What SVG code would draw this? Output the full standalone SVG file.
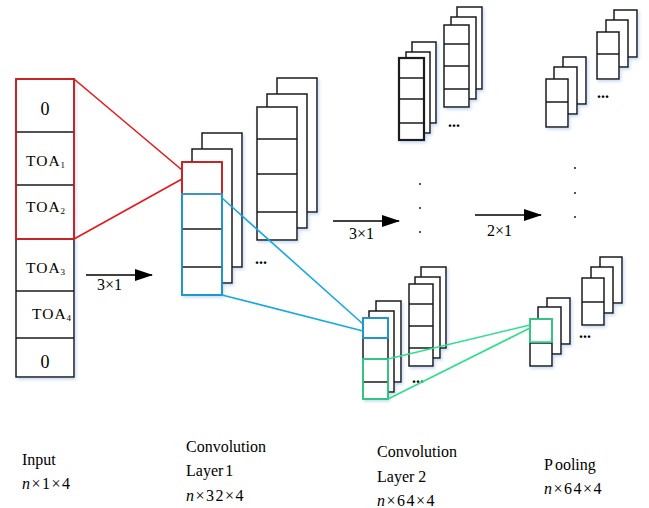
<svg xmlns="http://www.w3.org/2000/svg" width="649" height="508" viewBox="0 0 649 508">
  <defs>
    <filter id="soft" x="-20%" y="-20%" width="150%" height="150%">
      <feDropShadow dx="1.5" dy="2" stdDeviation="1.4" flood-color="#6f9ad6" flood-opacity="0.35"/>
    </filter>
    <marker id="head" viewBox="0 0 18 12" refX="17" refY="6" markerWidth="18" markerHeight="12" markerUnits="userSpaceOnUse" orient="auto">
      <path d="M0,0 L18,6 L0,12 Z" fill="#000"/>
    </marker>
  </defs>
  <style>
    .cell { fill: #fff; stroke: #1a1a1a; stroke-width: 1.5; }
    .bold { stroke-width: 2.2; }
    .div { stroke: #1a1a1a; stroke-width: 1.5; fill: none; }
    .red { fill: none; stroke: #e81818; stroke-width: 1.6; }
    .blue { fill: none; stroke: #16a8e4; stroke-width: 1.6; }
    .green { fill: none; stroke: #2ee08e; stroke-width: 1.6; }
    .arrow { stroke: #000; stroke-width: 1.6; fill: none; marker-end: url(#head); }
    text { font-family: "Liberation Serif", "Times New Roman", serif; fill: #000; }
    .lbl { font-size: 16px; }
    .dim { font-size: 16px; letter-spacing: 1.5px; }
    .toa { font-size: 15.5px; letter-spacing: 1px; }
    .sub { font-size: 9px; letter-spacing: 0; }
    .zero { font-size: 18px; }
    .dots { font-size: 16px; font-weight: bold; }
    .it { font-style: italic; }
  </style>

  <!-- input vector -->
  <g id="input" filter="url(#soft)">
    <rect class="cell" x="16" y="79" width="58" height="298"/>
    <path class="div" d="M16,132H74 M16,185H74 M16,239H74 M16,291H74 M16,338H74"/>
  </g>
  <g id="input-text">
    <text class="zero" x="45" y="115" text-anchor="middle">0</text>
    <text class="toa" x="26" y="166">TOA<tspan class="sub" dy="2">1</tspan></text>
    <text class="toa" x="26" y="212">TOA<tspan class="sub" dy="2">2</tspan></text>
    <text class="toa" x="26" y="273">TOA<tspan class="sub" dy="2">3</tspan></text>
    <text class="toa" x="32" y="319">TOA<tspan class="sub" dy="2">4</tspan></text>
    <text class="zero" x="45" y="368" text-anchor="middle">0</text>
  </g>

  <!-- convolution layer 1 -->
  <g id="conv1-a" filter="url(#soft)">
    <rect class="cell" x="202" y="133" width="40" height="134"/>
    <rect class="cell" x="192" y="149" width="40" height="134"/>
    <rect class="cell" x="182" y="162" width="40" height="133"/>
    <path class="div" d="M182,229H222 M182,267H222"/>
  </g>
  <g id="conv1-b" filter="url(#soft)">
    <rect class="cell" x="277" y="78" width="40" height="134"/>
    <rect class="cell" x="267" y="94" width="40" height="134"/>
    <rect class="cell" x="257" y="107" width="40" height="133"/>
    <path class="div" d="M257,139H297 M257,174H297 M257,212H297"/>
  </g>
  <text class="dots" x="255" y="264">...</text>

  <!-- convolution layer 2 -->
  <g id="conv2-a" filter="url(#soft)">
    <rect class="cell" x="412" y="42" width="24" height="81"/>
    <rect class="cell" x="406" y="52" width="24" height="81"/>
    <rect class="cell bold" x="399" y="58" width="25" height="82"/>
    <path class="div bold" d="M399,78H424 M399,99H424 M399,123H424"/>
  </g>
  <g id="conv2-b" filter="url(#soft)">
    <rect class="cell" x="457" y="7" width="25" height="82"/>
    <rect class="cell" x="451" y="17" width="25" height="82"/>
    <rect class="cell" x="444" y="25" width="25" height="82"/>
    <path class="div" d="M444,44H469 M444,66H469 M444,89H469"/>
  </g>
  <text class="dots" x="448" y="127">...</text>
  <g id="conv2-vdots">
    <circle cx="420" cy="184" r="0.9" fill="#000"/>
    <circle cx="420" cy="208" r="0.9" fill="#000"/>
    <circle cx="420" cy="232" r="0.9" fill="#000"/>
  </g>
  <g id="conv2-c" filter="url(#soft)">
    <rect class="cell" x="376" y="301" width="25" height="81"/>
    <rect class="cell" x="369" y="311" width="25" height="81"/>
    <rect class="cell" x="363" y="318" width="25" height="81"/>
    <path class="div" d="M363,338H388 M363,359H388 M363,382H388"/>
  </g>
  <g id="conv2-d" filter="url(#soft)">
    <rect class="cell" x="421" y="267" width="25" height="81"/>
    <rect class="cell" x="415" y="277" width="25" height="81"/>
    <rect class="cell" x="409" y="284" width="24" height="82"/>
    <path class="div" d="M409,304H433 M409,326H433 M409,348H433"/>
  </g>
  <text class="dots" x="412" y="383">...</text>

  <!-- pooling layer -->
  <g id="pool-a" filter="url(#soft)">
    <rect class="cell" x="563" y="57" width="23" height="47"/>
    <rect class="cell" x="554" y="67" width="23" height="47"/>
    <rect class="cell" x="546" y="79" width="22" height="48"/>
    <path class="div" d="M546,102H568"/>
  </g>
  <g id="pool-b" filter="url(#soft)">
    <rect class="cell" x="614" y="10" width="23" height="47"/>
    <rect class="cell" x="606" y="20" width="22" height="47"/>
    <rect class="cell" x="597" y="32" width="22" height="47"/>
    <path class="div" d="M597,54H619"/>
  </g>
  <text class="dots" x="597" y="98">...</text>
  <g id="pool-vdots">
    <circle cx="575" cy="168" r="0.9" fill="#000"/>
    <circle cx="575" cy="193" r="0.9" fill="#000"/>
    <circle cx="575" cy="217" r="0.9" fill="#000"/>
  </g>
  <g id="pool-c" filter="url(#soft)">
    <rect class="cell" x="547" y="298" width="23" height="46"/>
    <rect class="cell" x="538" y="307" width="23" height="47"/>
    <rect class="cell" x="530" y="319" width="22" height="47"/>
    <path class="div" d="M530,343H552"/>
  </g>
  <g id="pool-d" filter="url(#soft)">
    <rect class="cell" x="600" y="257" width="22" height="46"/>
    <rect class="cell" x="591" y="267" width="22" height="46"/>
    <rect class="cell" x="582" y="278" width="22" height="47"/>
    <path class="div" d="M582,302H604"/>
  </g>
  <text class="dots" x="579" y="338">...</text>

  <!-- receptive-field highlights and connectors -->
  <g id="connectors">
    <rect class="red" x="16" y="79" width="58" height="160"/>
    <line class="red" x1="74" y1="79" x2="182" y2="170"/>
    <line class="red" x1="74" y1="239" x2="182" y2="179"/>
    <rect class="red" x="182" y="162" width="40" height="32"/>

    <rect class="blue" x="182" y="194" width="40" height="101"/>
    <line class="blue" x1="222" y1="198" x2="363" y2="324"/>
    <line class="blue" x1="222" y1="295" x2="363" y2="331"/>
    <rect class="blue" x="363" y="318" width="25" height="20"/>

    <rect class="green" x="363" y="359" width="25" height="40"/>
    <line class="green" x1="388" y1="359" x2="530" y2="325"/>
    <line class="green" x1="388" y1="399" x2="530" y2="328"/>
    <rect class="green" x="530" y="319" width="22" height="23"/>

    <line class="arrow" x1="86" y1="275" x2="152" y2="275"/>
    <line class="arrow" x1="333" y1="221" x2="399" y2="221"/>
    <line class="arrow" x1="475" y1="215" x2="541" y2="215"/>
  </g>
  <g id="arrow-labels">
    <text class="lbl" x="97" y="290">3×1</text>
    <text class="lbl" x="349" y="239">3×1</text>
    <text class="lbl" x="487" y="236">2×1</text>
  </g>

  <!-- layer captions -->
  <g id="captions">
    <text class="lbl" x="22" y="465">Input</text>
    <text class="dim" x="22" y="489"><tspan class="it">n</tspan>×1×4</text>

    <text class="lbl" x="186" y="452">Convolution</text>
    <text class="lbl" x="186" y="476">Layer<tspan dx="2">1</tspan></text>
    <text class="dim" x="186" y="501"><tspan class="it">n</tspan>×32×4</text>

    <text class="lbl" x="377" y="457">Convolution</text>
    <text class="lbl" x="377" y="482">Layer 2</text>
    <text class="dim" x="377" y="506"><tspan class="it">n</tspan>×64×4</text>

    <text class="lbl" x="544" y="470">P<tspan dx="2">ooling</tspan></text>
    <text class="dim" x="544" y="494"><tspan class="it">n</tspan>×64×4</text>
  </g>
</svg>
